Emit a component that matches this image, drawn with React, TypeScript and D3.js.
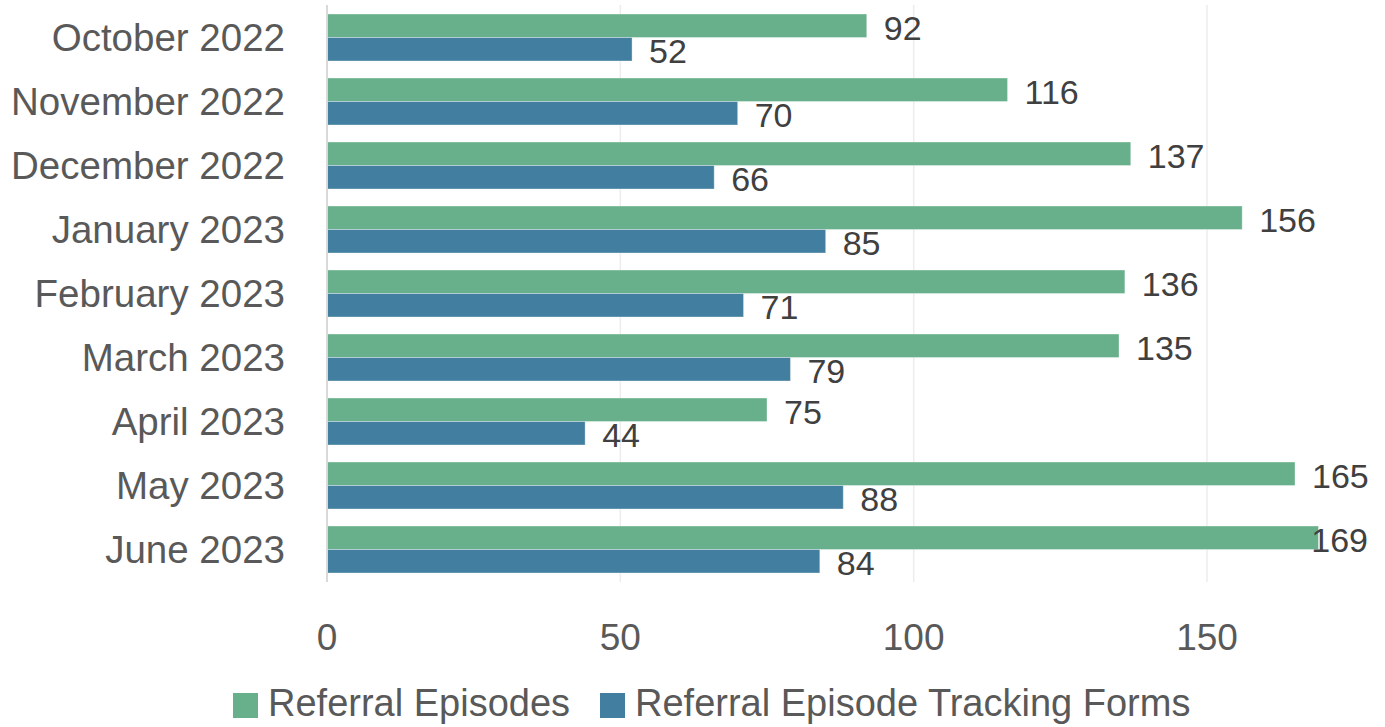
import React from "react";
import * as d3 from "d3";

const categories = [
  "October 2022",
  "November 2022",
  "December 2022",
  "January 2023",
  "February 2023",
  "March 2023",
  "April 2023",
  "May 2023",
  "June 2023",
];
const referralEpisodes = [92, 116, 137, 156, 136, 135, 75, 165, 169];
const trackingForms = [52, 70, 66, 85, 71, 79, 44, 88, 84];
const xTicks = [0, 50, 100, 150];
const seriesNames = ["Referral Episodes", "Referral Episode Tracking Forms"];
const seriesColors = ["#68b08b", "#427e9f"];

const W = 1385;
const H = 727;
const FONT = "'Liberation Sans', Arial, sans-serif";

export default function App() {
  const x = d3.scaleLinear().domain([0, 150]).range([327, 1207]);
  const y = d3
    .scaleBand<string>()
    .domain(categories)
    .range([5.5, 581.5])
    .paddingInner(0.266)
    .paddingOuter(0.133);
  const sub = d3
    .scaleBand<number>()
    .domain([0, 1])
    .range([0, y.bandwidth()]);
  const series = [referralEpisodes, trackingForms];
  const labelMaxEnd = 1368;

  return (
    <svg
      width={W}
      height={H}
      style={{ position: "absolute", left: 0, top: 0, background: "#fff" }}
      fontFamily={FONT}
    >
      {xTicks.slice(1).map((t) => (
        <line
          key={"g" + t}
          x1={x(t)}
          x2={x(t)}
          y1={5}
          y2={582}
          stroke="#ececec"
          strokeWidth={1.5}
        />
      ))}
      {series.map((vals, si) =>
        vals.map((v, i) => {
          const yy = (y(categories[i]) as number) + (sub(si) as number);
          const h = sub.bandwidth();
          const xEnd = x(v);
          let lx = xEnd + 17;
          let anchor: "start" | "end" = "start";
          const approxW = String(v).length * 18;
          if (lx + approxW > labelMaxEnd) {
            lx = labelMaxEnd;
            anchor = "end";
          }
          return (
            <g key={si + "-" + i}>
              <rect
                x={x(0)}
                y={yy}
                width={xEnd - x(0)}
                height={h}
                fill={seriesColors[si]}
                stroke="#ffffff"
                strokeOpacity={0.35}
                strokeWidth={1}
              />
              <text
                x={lx}
                y={yy + h / 2 + 2}
                dominantBaseline="central"
                textAnchor={anchor}
                fontSize={34}
                fill="#404040"
              >
                {v}
              </text>
            </g>
          );
        })
      )}
      <line
        x1={x(0)}
        x2={x(0)}
        y1={5}
        y2={582}
        stroke="#d9d9d9"
        strokeWidth={2}
      />
      {categories.map((c) => (
        <text
          key={c}
          x={285}
          y={(y(c) as number) + y.bandwidth() / 2}
          dominantBaseline="central"
          textAnchor="end"
          fontSize={38.5}
          fill="#595959"
        >
          {c}
        </text>
      ))}
      {xTicks.map((t) => (
        <text
          key={"t" + t}
          x={x(t)}
          y={637}
          dominantBaseline="central"
          textAnchor="middle"
          fontSize={37}
          fill="#595959"
        >
          {t}
        </text>
      ))}
      <g>
        <rect x={233} y={693} width={25} height={25} fill={seriesColors[0]} />
        <text x={268} y={703} dominantBaseline="central" fontSize={38} fill="#595959">
          {seriesNames[0]}
        </text>
        <rect x={600} y={693} width={25} height={25} fill={seriesColors[1]} />
        <text x={635} y={703} dominantBaseline="central" fontSize={38} fill="#595959">
          {seriesNames[1]}
        </text>
      </g>
    </svg>
  );
}
